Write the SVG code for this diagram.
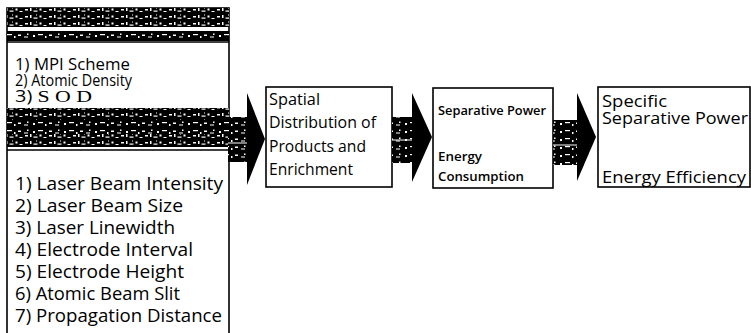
<svg xmlns="http://www.w3.org/2000/svg" width="751" height="333" viewBox="0 0 751 333">
<defs>
<pattern id="spk" width="24" height="7" patternUnits="userSpaceOnUse">
<rect width="24" height="7" fill="#000"/>
<rect x="1" y="2" width="3" height="1.5" fill="#fff"/>
<rect x="6" y="1" width="1.5" height="3" fill="#fff"/>
<rect x="9.5" y="3.5" width="4" height="1.2" fill="#fff"/>
<rect x="15.5" y="1.5" width="2" height="2" fill="#fff"/>
<rect x="19.5" y="4" width="3" height="1" fill="#fff"/>
<rect x="12" y="0.5" width="1" height="1" fill="#fff"/>
</pattern>
<pattern id="spk2" width="31" height="8" patternUnits="userSpaceOnUse">
<rect width="31" height="8" fill="#000"/>
<rect x="2" y="3" width="2" height="2" fill="#fff"/>
<rect x="7" y="2" width="5" height="1.2" fill="#fff"/>
<rect x="14" y="4" width="1.5" height="2" fill="#fff"/>
<rect x="18" y="2.5" width="3" height="1.5" fill="#fff"/>
<rect x="24" y="4.5" width="4" height="1" fill="#fff"/>
<rect x="27" y="1.5" width="1.5" height="1.5" fill="#fff"/>
</pattern>
</defs>
<style>
.box{fill:#fff;stroke:#000;stroke-width:1.6}
.t{font-family:"Open Sans","DejaVu Sans",sans-serif;fill:#000}
.sm{font-size:15.5px}
.lg{font-size:18px}
.b2{font-size:16px}
.b3{font-size:13px}
.b4{font-size:16.5px}
.ser{font-family:"Liberation Serif",serif}
.head{fill:#000}
.wl{stroke:#fff;stroke-width:1}
</style>

<g id="parameters">
<rect class="box" x="7" y="8" width="222" height="340" stroke-width="2"/>
<rect x="7" y="8" width="222" height="19" fill="url(#spk)"/>
<rect x="7" y="31" width="222" height="10" fill="url(#spk2)"/>
<line x1="7" y1="42" x2="229" y2="42" stroke="#000" stroke-width="1.5"/>
<rect x="7" y="108" width="222" height="12" fill="url(#spk)"/>
<rect x="7" y="120" width="222" height="14" fill="url(#spk2)"/>
<rect x="7" y="134" width="222" height="13" fill="url(#spk)"/>
<line x1="7" y1="150" x2="229" y2="150" stroke="#000" stroke-width="1.5"/>
<text class="t sm" x="15" y="70" textLength="115" lengthAdjust="spacingAndGlyphs">1) MPI Scheme</text>
<text class="t sm" x="15" y="86" textLength="117" lengthAdjust="spacingAndGlyphs">2) Atomic Density</text>
<text class="t sm" x="15" y="102" textLength="77" lengthAdjust="spacingAndGlyphs">3) <tspan class="ser" font-size="17">S O D</tspan></text>
<text class="t lg" x="15" y="190" textLength="208" lengthAdjust="spacingAndGlyphs">1) Laser Beam Intensity</text>
<text class="t lg" x="15" y="212" textLength="168" lengthAdjust="spacingAndGlyphs">2) Laser Beam Size</text>
<text class="t lg" x="15" y="234" textLength="160" lengthAdjust="spacingAndGlyphs">3) Laser Linewidth</text>
<text class="t lg" x="15" y="256" textLength="178" lengthAdjust="spacingAndGlyphs">4) Electrode Interval</text>
<text class="t lg" x="15" y="278" textLength="169" lengthAdjust="spacingAndGlyphs">5) Electrode Height</text>
<text class="t lg" x="15" y="300" textLength="165" lengthAdjust="spacingAndGlyphs">6) Atomic Beam Slit</text>
<text class="t lg" x="15" y="322" textLength="207" lengthAdjust="spacingAndGlyphs">7) Propagation Distance</text>
</g>

<g id="spatial">
<rect class="box" x="266" y="87" width="126" height="100"/>
<text class="t b2" x="269" y="105" textLength="51" lengthAdjust="spacingAndGlyphs">Spatial</text>
<text class="t b2" x="269" y="128" textLength="107" lengthAdjust="spacingAndGlyphs">Distribution of</text>
<text class="t b2" x="269" y="152" textLength="97" lengthAdjust="spacingAndGlyphs">Products and</text>
<text class="t b2" x="269" y="175" textLength="84" lengthAdjust="spacingAndGlyphs">Enrichment</text>
</g>

<g id="separative">
<rect class="box" x="433" y="88" width="120" height="100"/>
<text class="t b3" x="438" y="115" textLength="108" lengthAdjust="spacingAndGlyphs" font-weight="600">Separative Power</text>
<text class="t b3" x="438" y="161" textLength="44" lengthAdjust="spacingAndGlyphs" font-weight="600">Energy</text>
<text class="t b3" x="438" y="181" textLength="86" lengthAdjust="spacingAndGlyphs" font-weight="600">Consumption</text>
</g>

<g id="specific">
<rect class="box" x="598" y="87" width="152" height="100"/>
<text class="t b4" x="602" y="107" textLength="65" lengthAdjust="spacingAndGlyphs">Specific</text>
<text class="t b4" x="602" y="124" textLength="146" lengthAdjust="spacingAndGlyphs">Separative Power</text>
<text class="t b4" x="602" y="183" textLength="144" lengthAdjust="spacingAndGlyphs">Energy Efficiency</text>
</g>

<g id="connectors">
<g id="arrow1">
<rect x="228" y="117" width="20" height="45" fill="url(#spk2)"/>
<line class="wl" x1="228" y1="143" x2="248" y2="143"/>
<polygon class="head" points="247,93 265,139 247,185"/>
</g>
<g id="arrow2">
<rect x="392" y="117" width="21" height="46" fill="url(#spk2)"/>
<line class="wl" x1="392" y1="140" x2="413" y2="140"/>
<polygon class="head" points="412,93 432,137 412,182"/>
</g>
<g id="arrow3">
<rect x="553" y="120" width="25" height="45" fill="url(#spk2)"/>
<line class="wl" x1="553" y1="145" x2="578" y2="145"/>
<polygon class="head" points="577,93 596,137 577,181"/>
</g>
</g>
</svg>
